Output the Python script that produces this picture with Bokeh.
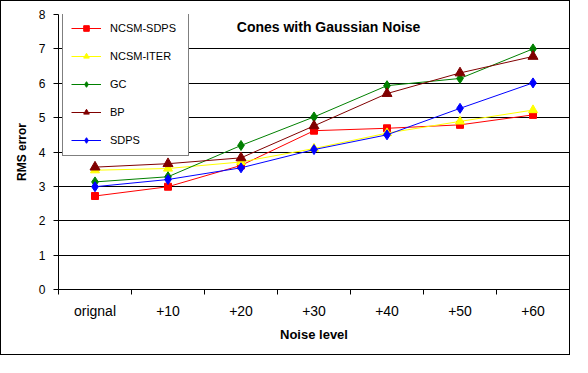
from bokeh.plotting import figure
from bokeh.models import Range1d, FixedTicker, Label, Legend, LegendItem, InlineStyleSheet
from bokeh.embed import file_html
from bokeh.resources import INLINE

categories = ["orignal", "+10", "+20", "+30", "+40", "+50", "+60"]
ncsm_sdps = [2.72, 2.99, 3.61, 4.62, 4.69, 4.79, 5.08]
ncsm_iter = [3.47, 3.52, 3.71, 4.10, 4.55, 4.89, 5.22]
gc = [3.13, 3.28, 4.19, 5.02, 5.93, 6.14, 7.00]
bp = [3.56, 3.66, 3.83, 4.76, 5.70, 6.30, 6.78]
sdps = [2.99, 3.20, 3.54, 4.07, 4.50, 5.27, 6.01]
y_ticks = [0, 1, 2, 3, 4, 5, 6, 7, 8]
grid_ticks = [1, 2, 3, 4, 5, 6, 7]

xs = [i + 0.5 for i in range(len(categories))]
bounds = [i for i in range(len(categories) + 1)]

FONT = "Liberation Sans"

p = figure(width=570, height=355, output_backend="svg", toolbar_location=None,
           x_range=Range1d(0, len(categories)), y_range=Range1d(0, 8),
           min_border_left=57, min_border_right=2, min_border_top=13, min_border_bottom=67)
p.stylesheets = [InlineStyleSheet(css=":host { border: 1px solid black; }")]
p.outline_line_color = None
p.background_fill_color = "white"
p.border_fill_color = "white"

# x axis
p.xaxis.ticker = FixedTicker(ticks=xs, minor_ticks=bounds)
p.xaxis.major_label_overrides = {x: c for x, c in zip(xs, categories)}
p.xaxis.major_tick_line_color = None
p.xaxis.major_tick_out = 0
p.xaxis.major_tick_in = 0
p.xaxis.minor_tick_line_color = "black"
p.xaxis.minor_tick_out = 5
p.xaxis.minor_tick_in = 0
p.xaxis.axis_line_color = "black"
p.xaxis.major_label_text_font = FONT
p.xaxis.major_label_text_font_size = "14px"
p.xaxis.major_label_text_color = "black"
p.xaxis.major_label_standoff = 8
p.xaxis.axis_label = "Noise level"
p.xaxis.axis_label_text_font = FONT
p.xaxis.axis_label_text_font_size = "13px"
p.xaxis.axis_label_text_font_style = "bold"
p.xaxis.axis_label_text_color = "black"
p.xaxis.axis_label_standoff = 5

# y axis
p.yaxis.ticker = FixedTicker(ticks=y_ticks, minor_ticks=[])
p.yaxis.major_tick_out = 5
p.yaxis.major_tick_in = 0
p.yaxis.major_tick_line_color = "black"
p.yaxis.axis_line_color = "black"
p.yaxis.major_label_text_font = FONT
p.yaxis.major_label_text_font_size = "12px"
p.yaxis.major_label_text_color = "black"
p.yaxis.major_label_standoff = 8
p.yaxis.axis_label = "RMS error"
p.yaxis.axis_label_text_font = FONT
p.yaxis.axis_label_text_font_size = "12px"
p.yaxis.axis_label_text_font_style = "bold"
p.yaxis.axis_label_text_color = "black"
p.yaxis.axis_label_standoff = 7

p.xgrid.grid_line_color = None
p.ygrid.ticker = FixedTicker(ticks=grid_ticks)
p.ygrid.grid_line_color = "black"
p.ygrid.grid_line_width = 1

series = [
    ("NCSM-SDPS", ncsm_sdps, "#FF0000", "square", 7),
    ("NCSM-ITER", ncsm_iter, "#FFFF00", "triangle", 9),
    ("GC", gc, "#008000", "diamond", 10),
    ("BP", bp, "#800000", "triangle", 10),
    ("SDPS", sdps, "#0000FF", "diamond", 10),
]

items = []
for name, vals, color, marker, size in series:
    l = p.line(xs, vals, line_color=color, line_width=1)
    s = p.scatter(xs, vals, marker=marker, size=size, fill_color=color, line_color=color)
    items.append(LegendItem(label=name, renderers=[l, s]))

legend = Legend(items=items, location=(4, 133))
legend.border_line_color = "black"
legend.border_line_width = 1
legend.background_fill_color = "white"
legend.background_fill_alpha = 1
legend.padding = 8
legend.spacing = 14
legend.glyph_height = 14
legend.label_height = 14
legend.glyph_width = 30
legend.label_standoff = 9
legend.label_width = 70
legend.label_text_font = FONT
legend.label_text_font_size = "11px"
legend.label_text_color = "black"
legend.margin = 0
p.add_layout(legend, "center")

title = Label(x=3.7, y=7.63, text="Cones with Gaussian Noise", text_font=FONT,
              text_font_size="14px", text_font_style="bold", text_align="center",
              text_baseline="middle", text_color="black")
p.add_layout(title)

open("out.html", "w").write(file_html(p, INLINE))
